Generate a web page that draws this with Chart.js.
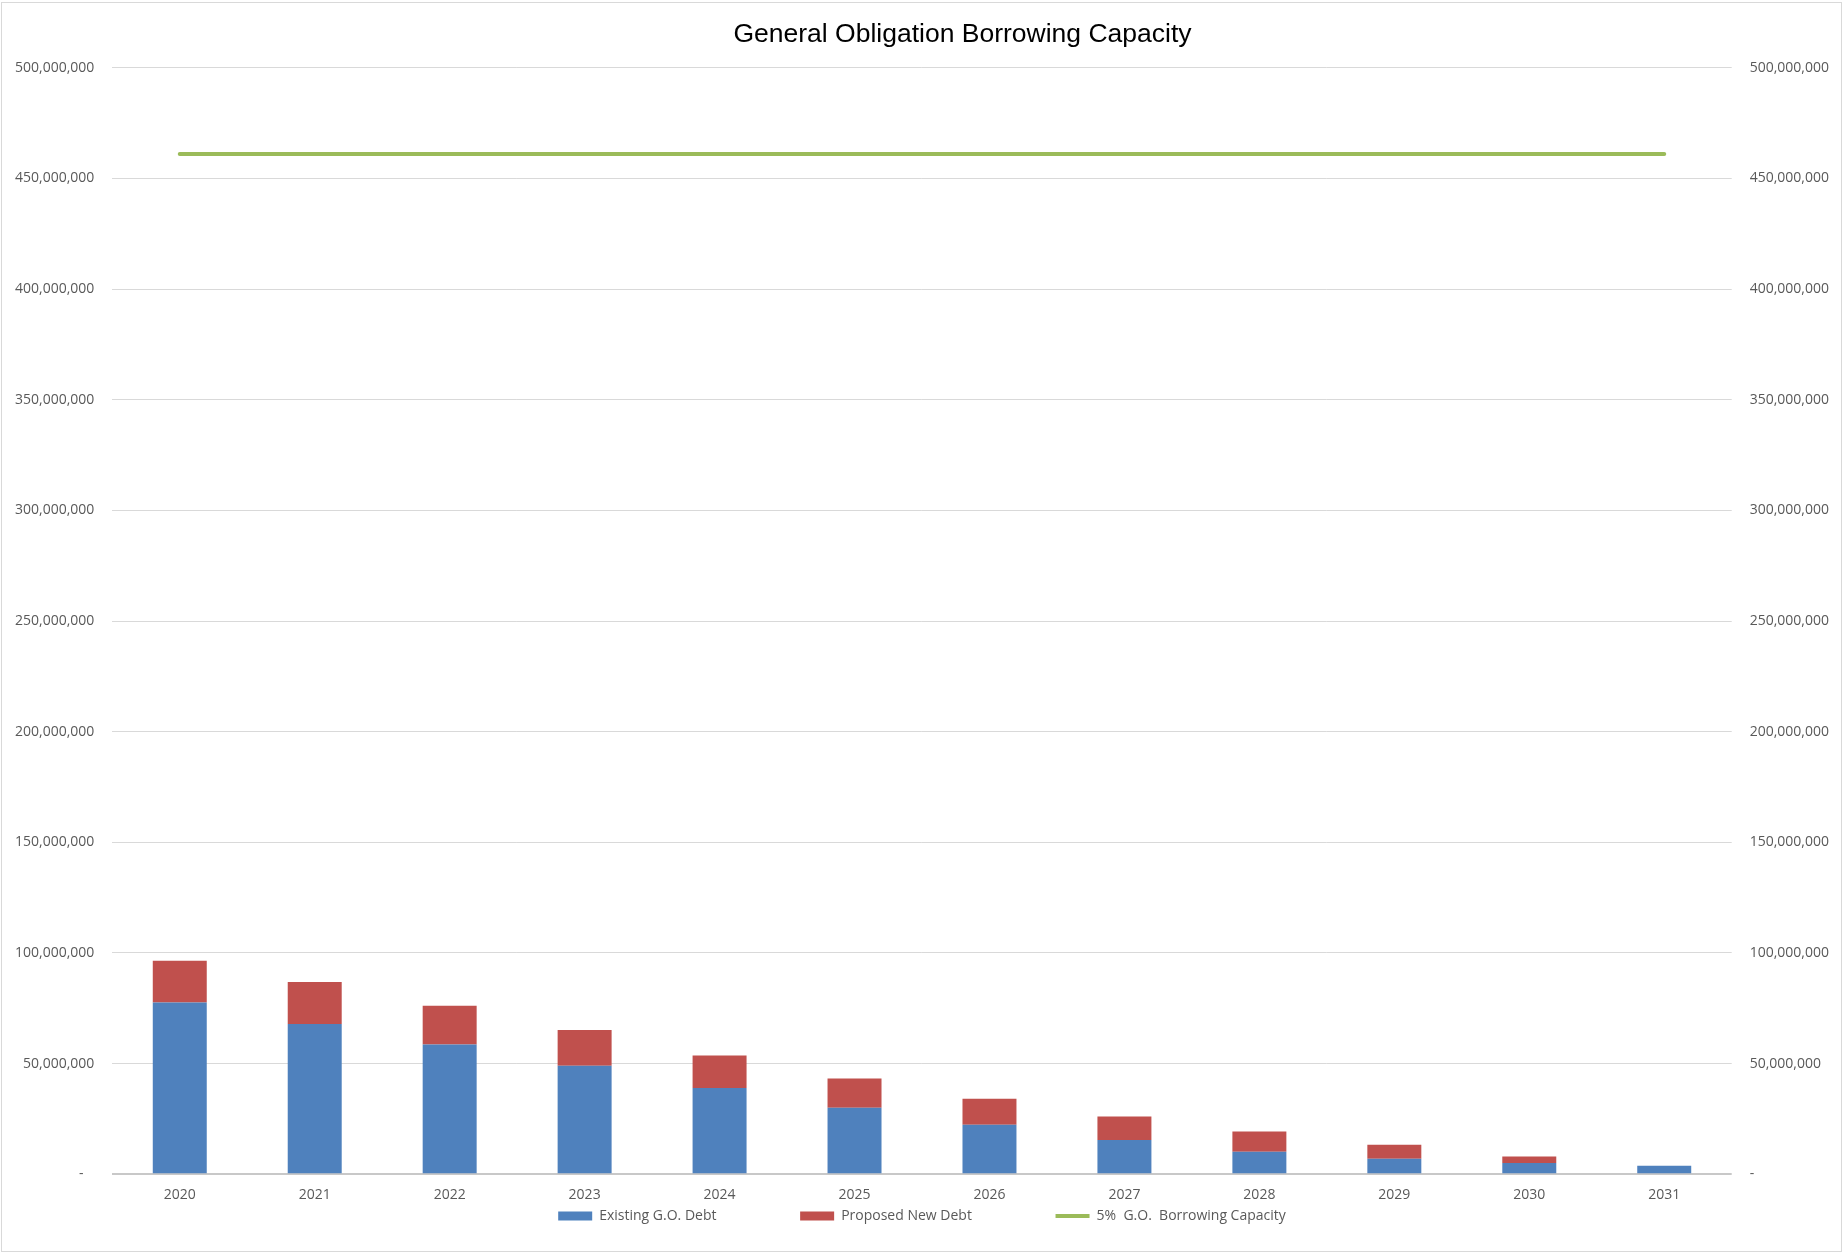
<!DOCTYPE html>
<html>
<head>
<meta charset="utf-8">
<title>General Obligation Borrowing Capacity</title>
<script src="https://cdn.jsdelivr.net/npm/chart.js@4.4.1/dist/chart.umd.min.js"></script>
<style>
  body { margin: 0; background: #fff; }
  #wrap { position: relative; width: 1843px; height: 1253px; }
  #frame { position: absolute; left: 1px; top: 2px; width: 1841px; height: 1250px;
           border: 1px solid #d9d9d9; box-sizing: border-box; pointer-events: none; }
</style>
</head>
<body>
<div id="wrap">
  <canvas id="myChart" width="1843" height="1253"></canvas>
  <div id="frame"></div>
</div>
<script>
// years on the x axis
const years = ["2020","2021","2022","2023","2024","2025","2026","2027","2028","2029","2030","2031"];
// values (dollars)
const existingDebt = [77600000, 67900000, 58600000, 49000000, 39000000, 30000000, 22300000, 15500000, 10100000, 7000000, 5100000, 3800000];
const proposedDebt = [18900000, 19000000, 17500000, 16200000, 14600000, 13200000, 11800000, 10600000, 9200000, 6300000, 2900000, 0];
const borrowingCapacity = [461000000, 461000000, 461000000, 461000000, 461000000, 461000000, 461000000, 461000000, 461000000, 461000000, 461000000, 461000000];
// axis range
const yMin = 0;
const yMax = 500000000;
const yStep = 50000000;

// excel colours
const COLORS = {
  blue: '#4F81BD',
  red: '#C0504D',
  green: '#9BBB59',
  grid: '#d9d9d9',
  axis: '#c8c8c8',
  text: '#595959'
};

// extra space after each legend label so the items spread out like excel
const legendGap = [' '.repeat(23), ' '.repeat(23), ''];

Chart.defaults.font.family = "'Open Sans', sans-serif";
Chart.defaults.font.size = 14;
Chart.defaults.color = COLORS.text;

function fmt(v, left) {
  if (v === 0) return left ? '-   ' : '-';
  return v.toLocaleString('en-US');
}

const data = {
  labels: years,
  datasets: [
    {
      type: 'bar',
      label: 'Existing G.O. Debt',
      data: existingDebt,
      backgroundColor: COLORS.blue,
      borderWidth: 0,
      stack: 'debt',
      pointStyle: 'rect',
      order: 2
    },
    {
      type: 'bar',
      label: 'Proposed New Debt',
      data: proposedDebt,
      backgroundColor: COLORS.red,
      borderWidth: 0,
      stack: 'debt',
      pointStyle: 'rect',
      order: 2
    },
    {
      type: 'line',
      label: '5%  G.O.  Borrowing Capacity',
      data: borrowingCapacity,
      borderColor: COLORS.green,
      backgroundColor: COLORS.green,
      borderWidth: 4,
      borderCapStyle: 'round',
      pointRadius: 0,
      pointHoverRadius: 0,
      pointBorderWidth: 4,
      pointBorderColor: COLORS.green,
      pointStyle: 'line',
      stack: 'cap',
      order: 1
    }
  ]
};

const config = {
  type: 'bar',
  data: data,
  options: {
    responsive: false,
    animation: false,
    layout: {
      padding: { left: 6, right: 5, top: 0, bottom: 20 }
    },
    datasets: {
      bar: { barPercentage: 0.4, categoryPercentage: 1.0 }
    },
    scales: {
      x: {
        stacked: true,
        grid: { display: false, drawTicks: true, tickLength: 6 },
        border: { display: false },
        ticks: { padding: 6, color: COLORS.text }
      },
      y: {
        stacked: true,
        position: 'left',
        min: yMin,
        max: yMax,
        grid: {
          drawTicks: true,
          tickLength: 9,
          tickColor: 'rgba(0,0,0,0)',
          color: (ctx) => ctx.tick && ctx.tick.value === 0 ? COLORS.axis : COLORS.grid,
          lineWidth: (ctx) => ctx.tick && ctx.tick.value === 0 ? 2 : 1
        },
        border: { display: false },
        ticks: {
          stepSize: yStep,
          padding: 9,
          color: COLORS.text,
          callback: (v) => fmt(v, true)
        }
      },
      y2: {
        position: 'right',
        min: yMin,
        max: yMax,
        grid: { display: false, drawTicks: true, tickLength: 9 },
        border: { display: false },
        ticks: {
          stepSize: yStep,
          padding: 9,
          color: COLORS.text,
          callback: (v) => fmt(v, false)
        }
      }
    },
    plugins: {
      title: {
        display: true,
        text: ' '.repeat(11) + 'General Obligation Borrowing Capacity',
        color: '#000',
        font: { family: "'Liberation Sans', Arial, sans-serif", size: 26.5, weight: 'normal' },
        padding: { top: 19, bottom: 17 }
      },
      legend: {
        position: 'bottom',
        labels: {
          usePointStyle: true,
          pointStyleWidth: 34,
          boxHeight: 9,
          padding: 0,
          color: COLORS.text,
          generateLabels: function (chart) {
            const items = Chart.defaults.plugins.legend.labels.generateLabels(chart);
            items.forEach((it) => { it.text = it.text + legendGap[it.datasetIndex]; });
            return items;
          },
          sort: (a, b) => a.datasetIndex - b.datasetIndex
        }
      },
      tooltip: { enabled: false }
    }
  }
};

const myChart = new Chart(document.getElementById('myChart'), config);
</script>
</body>
</html>
